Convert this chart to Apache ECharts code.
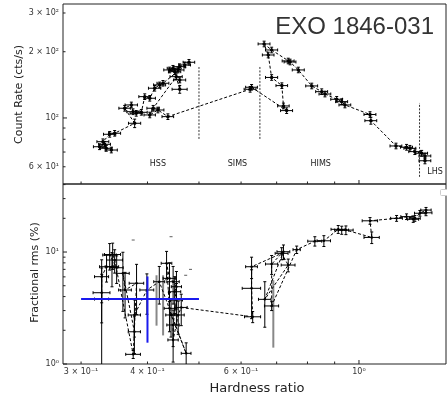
<!DOCTYPE html>
<html><head><meta charset="utf-8">
<script src="https://cdn.jsdelivr.net/npm/echarts@6/dist/echarts.min.js"></script>
<style>html,body{margin:0;padding:0;background:#fff}#c{width:447px;height:398px}</style>
</head><body><div id="c"></div>
<script>
// ---------- Top panel: count rate vs hardness (path order) ----------
const topX = [1.331,1.331,1.312,1.274,1.247,1.229,1.174,1.053,1.049,0.941,0.928,0.908,0.863,0.851,0.815,0.769,0.742,0.736,0.685,0.663,0.675,0.685,0.716,0.721,0.731,0.628,0.624,
  0.437,0.4185,0.404,0.41,0.453,0.46,0.46,0.45,0.4403,0.4467,0.4565,0.46,0.47,0.4788,
  0.4278,0.4217,0.4127,0.404,0.3953,0.3895,0.381,0.3757,0.373,0.3624,0.3784,0.347,0.3396,0.3298,0.3322,0.325,0.3346,0.342];
const topY = [63.9,67.2,69.1,70.3,72.8,73.6,74.6,97.2,103.7,114.6,118.6,121.6,128.5,131.7,139.8,165.3,179.7,181.6,203.7,217,193.3,152.8,140.3,113.4,108,137.9,135,
  101.4,108.7,103.2,110.7,154.1,135,148.8,162.3,165.3,168.2,165.3,171.1,174.2,179.1,
  143.8,141.3,136.5,122.9,125,106.1,105,106.8,114.6,110.7,94.6,85.2,84.3,78,75.9,74,72.8,71.5];
const topXErr = [0.034,0.034,0.034,0.033,0.032,0.032,0.030,0.027,0.027,0.024,0.024,0.023,0.022,0.022,0.021,0.020,0.019,0.019,0.018,0.017,0.017,0.018,0.018,0.018,0.019,0.016,0.016,
  0.011,0.011,0.010,0.011,0.012,0.015,0.012,0.012,0.011,0.011,0.012,0.012,0.012,0.012,
  0.011,0.011,0.011,0.010,0.010,0.010,0.010,0.010,0.010,0.009,0.010,0.009,0.009,0.0085,0.0085,0.0085,0.0085,0.009];
const topYErr = [2.0,2.0,2.1,2.1,2.2,2.2,2.2,3.5,3.0,3.4,3.5,3.6,3.8,3.9,4.1,4.8,5.3,5.3,6.0,6.4,5.7,4.5,4.1,3.4,3.2,4.0,4.0,
  3.0,3.2,3.0,3.3,4.5,5.5,4.4,4.8,4.9,5.0,4.9,5.0,5.1,5.3,
  4.2,4.2,4.0,3.6,3.7,3.1,3.1,3.2,3.4,3.3,4.2,2.5,2.5,2.3,2.3,2.2,2.2,2.1];

// ---------- Bottom panel: fractional rms vs hardness (path order) ----------
const botX = [1.337,1.337,1.302,1.274,1.265,1.229,1.177,1.049,1.057,0.945,0.928,0.914,0.859,0.826,0.7635,
  0.685,0.685,0.721,0.665,0.736,0.7155,0.628,0.628,0.631,
  0.463,0.457,0.447,0.447,0.4535,0.45,0.4535,0.447,0.44,0.4345,0.44,0.443,0.473,
  0.421,0.399,0.378,0.378,0.3596,0.363,0.3815,0.376,0.347,0.344,0.3396,0.35,0.343,0.335,0.328,0.328,0.328];
const botY = [22.4,23.7,22.2,20.0,19.6,20.7,20.0,19.0,13.5,15.7,15.7,15.95,12.6,12.5,10.5,
  3.3,7.81,10.06,3.78,7.65,9.73,7.39,4.74,2.64,
  3.2,2.74,1.64,2.23,3.73,4.42,4.9,5.43,5.82,7.93,3.14,2.74,1.245,
  5.43,4.58,2.74,1.94,6.45,4.58,5.26,1.22,8.48,9.5,9.4,7.24,7.39,7.39,6.02,4.33,3.8];
const botXErr = [0.035,0.03,0.03,0.03,0.03,0.03,0.03,0.035,0.035,0.03,0.028,0.028,0.025,0.025,0.012,
  0.021,0.018,0.02,0.018,0.022,0.02,0.016,0.025,0.022,
  0.012,0.012,0.010,0.012,0.012,0.012,0.010,0.012,0.012,0.010,0.010,0.010,0.010,
  0.010,0.012,0.010,0.010,0.010,0.010,0.012,0.012,0.012,0.012,0.010,0.010,0.010,0.010,0.010,0.012,0.010];
const botYErr = [1.3,1.3,1.3,1.2,1.2,1.2,1.2,1.3,1.6,1.4,1.3,1.3,1.4,1.2,0.8,
  0.3,1.5,1.5,1.65,1.0,1.2,1.6,2.2,0.3,
  1.0,0.9,0.6,0.8,1.5,1.6,1.8,2.0,2.2,2.2,1.2,1.0,0.3,
  2.0,1.8,1.0,0.7,3.5,2.0,2.5,0.1,2.0,2.5,2.5,2.0,2.5,2.0,2.5,2.0,3.4];

// grey error bars (bottom panel)
const greyX = [0.416, 0.428, 0.69];
const greyY = [4.2, 4.0, 3.5];
const greyYErr = [2.0, 2.2, 2.1];
// isolated small dashes (bottom panel)
const dashX = [0.376, 0.443, 0.472, 0.482];
const dashY = [12.8, 13.7, 6.2, 7.0];
// blue average point
const blueX = [0.40];
const blueY = [3.8];
const blueXErr = [0.10];
const blueYErr = [2.25];

// state boundaries (top panel)
const boundX = [0.50, 0.651, 1.30];
const boundYLo = [80.3, 80.3, 54];
const boundYHi = [170.5, 170.5, 117];
const stateNames = ['HSS', 'SIMS', 'HIMS', 'LHS'];
const stateX = [0.4185, 0.5907, 0.8472, 1.39];
const stateY = [61.8, 61.8, 61.8, 57.0];

// axis ranges and ticks
const XMIN = 0.2774, XMAX = 1.458;
const TOP_YMIN = 50.1, TOP_YMAX = 329.6;
const BOT_YMIN = 1, BOT_YMAX = 40.5;
const xTickVals = [0.3,0.4,0.5,0.6,0.7,0.8,0.9,1.0];
const xLabelVals = [0.3,0.4,0.6,1.0];
const xLabelText = ['3 × 10⁻¹','4 × 10⁻¹','6 × 10⁻¹','10⁰'];
const topYTickVals = [60,70,80,90,100,200,300];
const topYLabelVals = [60,100,200,300];
const topYLabelText = ['6 × 10¹','10²','2 × 10²','3 × 10²'];
const botYTickVals = [1,2,3,4,5,6,7,8,9,10,20,30,40];
const botYLabelVals = [1,10];
const botYLabelText = ['10⁰','10¹'];

const FONT_TICK = '8px "DejaVu Sans"';
const isMajor = v => Math.abs(Math.log10(v) - Math.round(Math.log10(v))) < 1e-9;

function errRender(color, width, cap) {
  return function (params, api) {
    const x = api.value(0), y = api.value(1), xe = api.value(2), ye = api.value(3);
    const c = api.coord([x, y]);
    const l = api.coord([x - xe, y]);
    const r = api.coord([x + xe, y]);
    const t = api.coord([x, y + ye]);
    const b = api.coord([x, Math.max(y - ye, 1e-4)]);
    const st = { stroke: color, lineWidth: width, fill: null };
    const ch = [];
    if (xe > 0) ch.push({ type: 'line', shape: { x1: l[0], y1: c[1], x2: r[0], y2: c[1] }, style: st });
    if (ye > 0) ch.push({ type: 'line', shape: { x1: c[0], y1: t[1], x2: c[0], y2: b[1] }, style: st });
    if (cap > 0) {
      if (xe > 0) {
        ch.push({ type: 'line', shape: { x1: l[0], y1: c[1] - cap, x2: l[0], y2: c[1] + cap }, style: st });
        ch.push({ type: 'line', shape: { x1: r[0], y1: c[1] - cap, x2: r[0], y2: c[1] + cap }, style: st });
      }
      if (ye > 0) {
        ch.push({ type: 'line', shape: { x1: c[0] - cap, y1: t[1], x2: c[0] + cap, y2: t[1] }, style: st });
        ch.push({ type: 'line', shape: { x1: c[0] - cap, y1: b[1], x2: c[0] + cap, y2: b[1] }, style: st });
      }
    }
    return { type: 'group', children: ch };
  };
}

function zip4(a, b, c, d) { return a.map((v, i) => [v, b[i], c[i], d[i]]); }

// axis decorations (ticks + labels) per grid
function buildDecor(yTicks, yLabVals, yLabText, yMin, withXLabels) {
  const d = [];
  xTickVals.forEach(v => d.push({ kind: 'xt', v: [v, yMin] }));
  yTicks.forEach(v => d.push({ kind: 'yt', v: [XMIN, v] }));
  yLabVals.forEach((v, i) => d.push({ kind: 'yl', v: [XMIN, v], text: yLabText[i] }));
  if (withXLabels) xLabelVals.forEach((v, i) => d.push({ kind: 'xl', v: [v, yMin], text: xLabelText[i] }));
  return d;
}
const decorTop = buildDecor(topYTickVals, topYLabelVals, topYLabelText, TOP_YMIN, false);
const decorBot = buildDecor(botYTickVals, botYLabelVals, botYLabelText, BOT_YMIN, true);

function decorRender(decor) {
  return function (params, api) {
    const d = decor[params.dataIndex];
    const p = api.coord(d.v);
    const st = { stroke: '#222', lineWidth: 1 };
    if (d.kind === 'xt') {
      const len = isMajor(d.v[0]) ? 4 : 2.5;
      return { type: 'line', shape: { x1: p[0], y1: p[1], x2: p[0], y2: p[1] - len }, style: st };
    }
    if (d.kind === 'yt') {
      const len = isMajor(d.v[1]) ? 4 : 2.5;
      return { type: 'line', shape: { x1: p[0], y1: p[1], x2: p[0] + len, y2: p[1] }, style: st };
    }
    if (d.kind === 'yl') {
      return { type: 'text', x: p[0] - 4, y: p[1], style: { text: d.text, font: FONT_TICK, fill: '#333', align: 'right', verticalAlign: 'middle' } };
    }
    return { type: 'text', x: p[0], y: p[1] + 8, style: { text: d.text, font: FONT_TICK, fill: '#333', align: 'center', verticalAlign: 'middle' } };
  };
}

const chart = echarts.init(document.getElementById('c'), null, { renderer: 'canvas' });
const axisBase = { type: 'log', logBase: 10, axisLine: { show: false }, axisTick: { show: false }, axisLabel: { show: false }, splitLine: { show: false } };

chart.setOption({
  animation: false,
  backgroundColor: '#fff',
  grid: [
    { left: 63, top: 4, width: 383, height: 180, show: true, borderColor: '#222', borderWidth: 1, backgroundColor: 'transparent' },
    { left: 63, top: 184, width: 383, height: 180, show: true, borderColor: '#222', borderWidth: 1, backgroundColor: 'transparent' }
  ],
  xAxis: [
    Object.assign({ gridIndex: 0, min: XMIN, max: XMAX }, axisBase),
    Object.assign({ gridIndex: 1, min: XMIN, max: XMAX }, axisBase)
  ],
  yAxis: [
    Object.assign({ gridIndex: 0, min: TOP_YMIN, max: TOP_YMAX }, axisBase),
    Object.assign({ gridIndex: 1, min: BOT_YMIN, max: BOT_YMAX }, axisBase)
  ],
  graphic: [
    { type: 'text', x: 434, y: 27, style: { text: 'EXO 1846-031', font: '24px "Liberation Sans"', fill: '#333', align: 'right', verticalAlign: 'middle' } },
    { type: 'text', x: 19, y: 94.5, rotation: Math.PI / 2, style: { text: 'Count Rate (cts/s)', font: '11px "DejaVu Sans"', fill: '#222', align: 'center', verticalAlign: 'middle' } },
    { type: 'text', x: 35.5, y: 272.5, rotation: Math.PI / 2, style: { text: 'Fractional rms (%)', font: '11px "DejaVu Sans"', fill: '#222', align: 'center', verticalAlign: 'middle' } },
    { type: 'text', x: 257, y: 389, style: { text: 'Hardness ratio', font: '13px "DejaVu Sans"', fill: '#222', align: 'center', verticalAlign: 'middle' } },
    { type: 'rect', shape: { x: 440.5, y: 189.5, width: 8, height: 6, r: 1 }, style: { fill: '#fff', stroke: '#ccc', lineWidth: 1 } }
  ],
  series: [
    // top panel
    { type: 'custom', xAxisIndex: 0, yAxisIndex: 0, clip: true, renderItem: function (params, api) {
        const lo = api.coord([api.value(0), api.value(1)]);
        const hi = api.coord([api.value(0), api.value(2)]);
        return { type: 'line', shape: { x1: lo[0], y1: lo[1], x2: hi[0], y2: hi[1] }, style: { stroke: '#333', lineWidth: 1, lineDash: [2, 1.5] } };
      }, data: boundX.map((v, i) => [v, boundYLo[i], boundYHi[i]]), z: 2 },
    { type: 'custom', xAxisIndex: 0, yAxisIndex: 0, clip: false, renderItem: function (params, api) {
        const p = api.coord([api.value(0), api.value(1)]);
        return { type: 'text', x: p[0], y: p[1], style: { text: stateNames[params.dataIndex], font: '8px "DejaVu Sans"', fill: '#222', align: 'center', verticalAlign: 'middle' } };
      }, data: stateX.map((v, i) => [v, stateY[i]]), z: 2 },
    { type: 'custom', xAxisIndex: 0, yAxisIndex: 0, clip: true, renderItem: errRender('#000', 1, 1.5),
      data: zip4(topX, topY, topXErr, topYErr), z: 3 },
    { type: 'line', xAxisIndex: 0, yAxisIndex: 0, data: topX.map((v, i) => [v, topY[i]]),
      symbol: 'circle', symbolSize: 3.5, itemStyle: { color: '#000' },
      lineStyle: { color: '#000', width: 1, type: [3, 2] }, z: 4 },
    { type: 'custom', xAxisIndex: 0, yAxisIndex: 0, clip: false, renderItem: decorRender(decorTop),
      data: decorTop.map(d => d.v), z: 5, silent: true },
    // bottom panel
    { type: 'custom', xAxisIndex: 1, yAxisIndex: 1, clip: true, renderItem: errRender('#888', 2, 0),
      data: greyX.map((v, i) => [v, greyY[i], 0, greyYErr[i]]), z: 2 },
    { type: 'custom', xAxisIndex: 1, yAxisIndex: 1, clip: true, renderItem: errRender('#000', 1, 1.5),
      data: zip4(botX, botY, botXErr, botYErr), z: 3 },
    { type: 'line', xAxisIndex: 1, yAxisIndex: 1, data: botX.map((v, i) => [v, botY[i]]),
      symbol: 'circle', symbolSize: 2.5, itemStyle: { color: '#000' },
      lineStyle: { color: '#000', width: 1, type: [3, 2] }, z: 4 },
    { type: 'scatter', xAxisIndex: 1, yAxisIndex: 1, data: dashX.map((v, i) => [v, dashY[i]]),
      symbol: 'rect', symbolSize: [3, 1], itemStyle: { color: '#333' }, z: 4 },
    { type: 'custom', xAxisIndex: 1, yAxisIndex: 1, clip: true, renderItem: errRender('#1a1aee', 2, 0),
      data: zip4(blueX, blueY, blueXErr, blueYErr), z: 6 },
    { type: 'custom', xAxisIndex: 1, yAxisIndex: 1, clip: false, renderItem: decorRender(decorBot),
      data: decorBot.map(d => d.v), z: 5, silent: true }
  ]
});
</script>
</body></html>
